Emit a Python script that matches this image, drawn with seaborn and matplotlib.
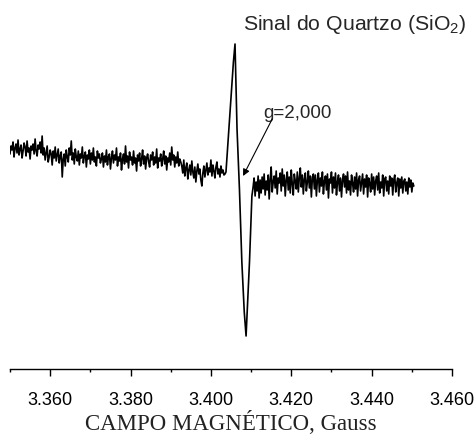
import numpy as np
import pandas as pd
import matplotlib
matplotlib.use("Agg")
import matplotlib.pyplot as plt
from matplotlib.ticker import MultipleLocator, FuncFormatter
import seaborn as sns

# ---- data (field in Gauss, intensity in arbitrary units) ----
left_start, left_step = 3350.0, 0.25
left_signal = [
    30, 38, 34, 42, 27, 36, 40, 31, 44, 29, 35, 39, 26, 33, 41, 37, 28, 43,
    32, 36, 25, 38, 34, 40, 30, 45, 33, 28, 39, 35, 42, 31, 48,
    29, 36, 24, 31, 38, 22, 27, 34, 30, 19, 33, 26, 37, 23, 29, 35, 21, 28,
    32, 7, 25, 30, 18, 34, 27, 22, 36, 29, 43, 24, 31, 20, 35, 27, 23, 33,
    19, 30, 26, 37, 21, 28, 32, 17, 29, 25, 34, 20, 31, 24, 36, 22, 27, 18,
    33, 26, 30, 21,
    25, 31, 17, 28, 22, 34, 19, 27, 30, 15, 26, 33, 21, 29, 24, 36, 18, 27,
    23, 31, 14, 25, 30, 20, 38, 22, 28, 16, 32, 24, 27, 19, 33, 21, 26, 13,
    29, 23, 31, 18, 25, 34, 20, 28, 15, 26, 30, 22, 17, 29, 24, 32, 19, 27,
    21, 35, 16, 26, 23, 30, 18, 25, 33, 20, 28, 14, 26, 22, 31, 19, 37, 24,
    29, 17, 27, 21, 32, 18, 25, 22,
    18, 11, 24, 8, 16, 21, 5, 14, 19, 9, 23, 12, 6, 17, 2, 13, 20, 10, 15, 4,
    -2, 11, 18, 7, 14, 21, 9, 16, 12, 24, 8, 19, 13, 6, 17, 22, 10, 15, 7,
    18, 11, 14, 9, 10,
]

peak_field = [3403.75, 3404.75, 3405.6, 3406.0, 3406.5, 3407.1, 3407.7,
              3408.3, 3408.75, 3409.6, 3410.2]
peak_signal = [12, 72, 122, 140, 55, -5, -78, -128, -152, -78, -12]

right_start, right_step = 3410.5, 0.25
right_signal = [
    -3, 6, -12, 2, -7, 8, -14, 4, -9, 7, -5, 10, -11, 3, -6, 9, -15, 5, 17,
    -8, 2,
    8, -4, 13, -10, 6, 1, 11, -7, 15, -2, 9, -12, 4, 12, -6, 7, -9, 14, 0,
    -11, 10, 3, -5, 12, -8, 6, 16, -3, 9, -10, 5, 11, -7, 2, 13, -4, 8, -13,
    6, 10,
    -5, 9, -12, 4, 11, -8, 6, -2, 12, -10, 3, 8, -6, 10, -14, 5, 1, 12, -9,
    7, -4, 11, -11, 2, 9, -7, 6, -13, 4, 10, -3, 8, -9, 12, -6, 3, -11, 9, 1,
    -8, 7, -5, 11, -12, 4, 8, -7, 2, 10, -10, 5, -3, 9, -13, 6, 1, -8, 10,
    -5, 7, -11, 3, 8, -6, 11, -9, 2, -4, 9, -12, 5, 7, -7, 3, -10, 8, -2, 6,
    -11, 4, 9, -8, 1, 6, -12, 5, -4, 7, -9, 3, 5, -7, 2, -10, 6, -3, 4, -8,
    1, -2,
]

major_ticks = [3360, 3380, 3400, 3420, 3440, 3460]
title_text = "Sinal do Quartzo (SiO$_{2}$)"
g_label = "g=2,000"
x_label = "CAMPO MAGNÉTICO, Gauss"

# ---- assemble ----
left_field = left_start + left_step * np.arange(len(left_signal))
right_field = right_start + right_step * np.arange(len(right_signal))
df = pd.DataFrame({
    "field": np.concatenate([left_field, peak_field, right_field]),
    "signal": np.concatenate([left_signal, peak_signal, right_signal]),
})

sns.set_style("white")
plt.rcParams["font.family"] = ["Liberation Sans", "DejaVu Sans"]
plt.rcParams["mathtext.default"] = "regular"

fig = plt.figure(figsize=(4.75, 4.39), dpi=100)
ax = fig.add_axes([10 / 475, 1 - 370 / 439, 442 / 475, 340 / 439])

sns.lineplot(data=df, x="field", y="signal", ax=ax, color="black",
             linewidth=1.2, estimator=None, sort=False)

ax.set_xlim(3350, 3460)
ax.set_ylim(-185, 155)

for s in ["left", "right", "top"]:
    ax.spines[s].set_visible(False)
ax.spines["bottom"].set_linewidth(1.0)
ax.spines["bottom"].set_color("black")

ax.set_xticks(major_ticks)
ax.xaxis.set_minor_locator(MultipleLocator(10))
ax.xaxis.set_major_formatter(FuncFormatter(lambda v, p: f"{v / 1000:.3f}"))
ax.tick_params(axis="x", which="major", direction="out", length=5, width=1.0,
               pad=11, labelsize=13, colors="black", bottom=True)
ax.tick_params(axis="x", which="minor", direction="out", length=2.5,
               width=1.0, bottom=True, colors="black")
ax.set_yticks([])
ax.set_ylabel("")
ax.set_xlabel(x_label, fontsize=16.5, family="Liberation Serif", labelpad=1,
              color="#222222")

ax.text(3463.5, 160, title_text, ha="right", va="center", fontsize=15.3,
        clip_on=False)
ax.text(3413, 72, g_label, ha="left", va="center", fontsize=13.5)
ax.annotate("", xy=(3408.0, 8), xytext=(3415.25, 65),
            arrowprops=dict(arrowstyle="-|>", color="black", lw=0.8,
                            mutation_scale=10, shrinkA=0, shrinkB=0))

fig.savefig("out.png", dpi=100)
